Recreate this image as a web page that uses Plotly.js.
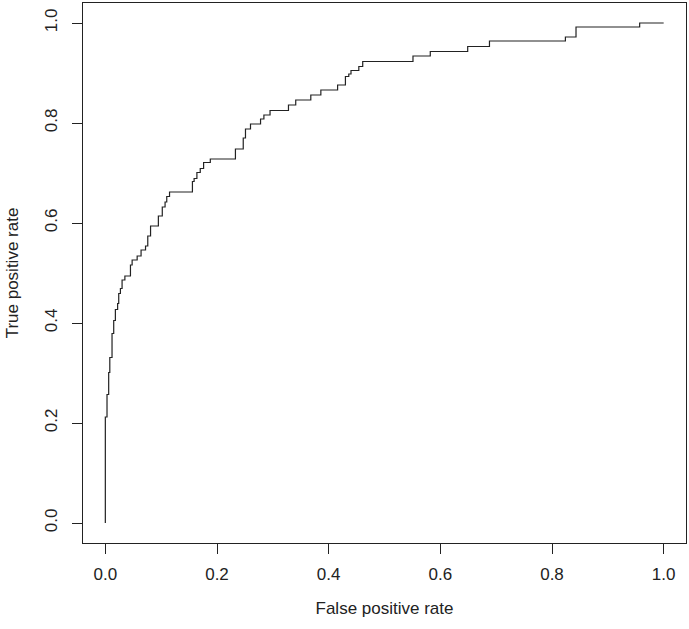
<!DOCTYPE html>
<html>
<head>
<meta charset="utf-8">
<script src="https://cdn.plot.ly/plotly-3.0.1.min.js"></script>
<style>
  html, body { margin: 0; padding: 0; background: #fff; }
  #chart { width: 689px; height: 629px; }
</style>
</head>
<body>
<div id="chart"></div>
<script>
// ROC curve: false positive rate (x) and true positive rate (y) at each step corner
const fpr = [0.000, 0.000, 0.003, 0.006, 0.008, 0.012, 0.015, 0.018, 0.022, 0.024, 0.027,
             0.030, 0.035, 0.045, 0.048, 0.057, 0.064, 0.072, 0.076, 0.081, 0.095,
             0.102, 0.107, 0.110, 0.115, 0.156, 0.159, 0.164, 0.170, 0.176, 0.188,
             0.233, 0.247, 0.251, 0.260, 0.278, 0.284, 0.295, 0.328, 0.341, 0.368,
             0.386, 0.416, 0.430, 0.436, 0.440, 0.454, 0.461, 0.551, 0.582, 0.649,
             0.688, 0.824, 0.843, 0.957, 1.000];
const tpr = [0.000, 0.212, 0.257, 0.301, 0.331, 0.379, 0.405, 0.427, 0.439, 0.459, 0.469,
             0.486, 0.494, 0.516, 0.526, 0.534, 0.546, 0.554, 0.574, 0.594, 0.614,
             0.632, 0.642, 0.653, 0.662, 0.683, 0.689, 0.701, 0.709, 0.721, 0.728,
             0.748, 0.770, 0.788, 0.798, 0.808, 0.816, 0.825, 0.836, 0.846, 0.856,
             0.866, 0.876, 0.893, 0.898, 0.905, 0.913, 0.923, 0.934, 0.943, 0.953,
             0.964, 0.972, 0.992, 1.000, 1.000];
const tickVals = [0, 0.2, 0.4, 0.6, 0.8, 1.0];
const tickText = ["0.0", "0.2", "0.4", "0.6", "0.8", "1.0"];
const xLabel = "False positive rate";
const yLabel = "True positive rate";

const ink = '#222222';
const fontFamily = '"Liberation Sans", Arial, sans-serif';

const trace = {
  x: fpr, y: tpr, type: 'scatter', mode: 'lines',
  line: { color: ink, width: 1.2, shape: 'hv' },
  hoverinfo: 'skip'
};

const axisCommon = {
  range: [-0.04, 1.04],
  showgrid: false, zeroline: false,
  showline: true, mirror: true, linecolor: ink, linewidth: 1,
  ticks: 'outside', tickcolor: ink, tickwidth: 1,
  tickvals: tickVals, ticktext: tickText,
  tickfont: { family: fontFamily, size: 17, color: ink },
  fixedrange: true
};

const layout = {
  width: 689, height: 629,
  margin: { l: 83, r: 3, t: 3, b: 86 },
  paper_bgcolor: '#ffffff', plot_bgcolor: '#ffffff',
  showlegend: false,
  font: { family: fontFamily, color: ink },
  xaxis: Object.assign({}, axisCommon, {
    ticklen: 10,
    ticklabelstandoff: 6,
    title: { text: xLabel, font: { family: fontFamily, size: 17, color: ink }, standoff: 18 }
  }),
  yaxis: Object.assign({}, axisCommon, {
    ticklen: 10,
    tickangle: -90,
    ticklabelstandoff: 8,
    title: { text: yLabel, font: { family: fontFamily, size: 17, color: ink }, standoff: 19 }
  })
};

Plotly.newPlot('chart', [trace], layout, { displayModeBar: false, staticPlot: true });
</script>
</body>
</html>
